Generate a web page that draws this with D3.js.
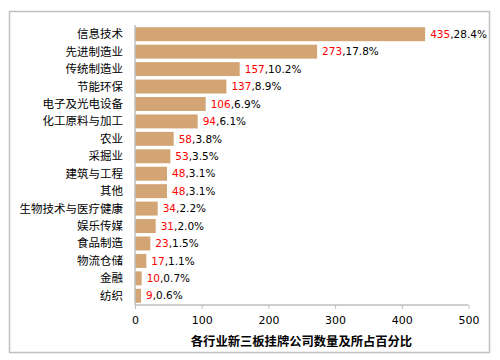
<!DOCTYPE html>
<html><head><meta charset="utf-8">
<script src="https://cdn.jsdelivr.net/npm/d3@7"></script>
<style>body{margin:0;background:#fff}</style>
</head><body><svg id="c" width="500" height="360"></svg>
<script>
const categories = ["信息技术","先进制造业","传统制造业","节能环保","电子及光电设备","化工原料与加工","农业","采掘业","建筑与工程","其他","生物技术与医疗健康","娱乐传媒","食品制造","物流仓储","金融","纺织"];
const counts = [435,273,157,137,106,94,58,53,48,48,34,31,23,17,10,9];
const shares = ["28.4%","17.8%","10.2%","8.9%","6.9%","6.1%","3.8%","3.5%","3.1%","3.1%","2.2%","2.0%","1.5%","1.1%","0.7%","0.6%"];
const tickValues = [0,100,200,300,400,500];
const axisTitle = "各行业新三板挂牌公司数量及所占百分比";

const svg = d3.select("#c");
const font = "'Noto Sans CJK SC', 'Noto Sans', sans-serif";
svg.append("rect").attr("x",9.5).attr("y",11.5).attr("width",480).attr("height",341)
  .attr("fill","#fff").attr("stroke","#bfbfbf").attr("stroke-width",1.5);

const x = d3.scaleLinear().domain([0,500]).range([135,468.5]);
const y = d3.scaleBand().domain(categories).range([25.5,304.5]).paddingInner(0.2).paddingOuter(0.1);

svg.append("g").selectAll("rect").data(categories).join("rect")
  .attr("x",x(0)).attr("y",d=>y(d)).attr("height",y.bandwidth())
  .attr("width",(d,i)=>x(counts[i])-x(0)).attr("fill","#d3a574");

// y axis line
svg.append("line").attr("x1",x(0)).attr("x2",x(0)).attr("y1",25).attr("y2",305)
  .attr("stroke","#bfbfbf").attr("stroke-width",1.5);

// category labels
svg.append("g").selectAll("text").data(categories).join("text")
  .attr("x",123).attr("y",d=>y(d)+y.bandwidth()/2).attr("dy","0.35em")
  .attr("text-anchor","end").attr("font-family",font).attr("font-size",11.5).attr("fill","#000")
  .text(d=>d);

// value labels
const lab = svg.append("g").selectAll("text").data(categories).join("text")
  .attr("x",(d,i)=>x(counts[i])+5).attr("y",d=>y(d)+y.bandwidth()/2).attr("dy","0.35em")
  .attr("font-family","'DejaVu Sans', sans-serif").attr("font-size",10.5).attr("fill","#000");
lab.append("tspan").attr("fill","#ff0000").text((d,i)=>counts[i]);
lab.append("tspan").text((d,i)=>","+shares[i]);

// x axis
const xAxis = d3.axisBottom(x).tickValues(tickValues).tickSize(4).tickFormat(d3.format("d"));
const gx = svg.append("g").attr("transform","translate(0,305)").call(xAxis);
gx.select(".domain").attr("stroke","#bfbfbf").attr("stroke-width",1.5).attr("d","M135,0H468.5");
gx.selectAll(".tick line").attr("stroke","#bfbfbf");
gx.selectAll(".tick text").attr("font-family","'DejaVu Sans', sans-serif").attr("font-size",11).attr("fill","#000").attr("dy","1.1em");

svg.append("text").attr("x",301.5).attr("y",346).attr("text-anchor","middle")
  .attr("font-family",font).attr("font-size",12.3).attr("font-weight","bold").attr("fill","#000")
  .text(axisTitle);
</script></body></html>
